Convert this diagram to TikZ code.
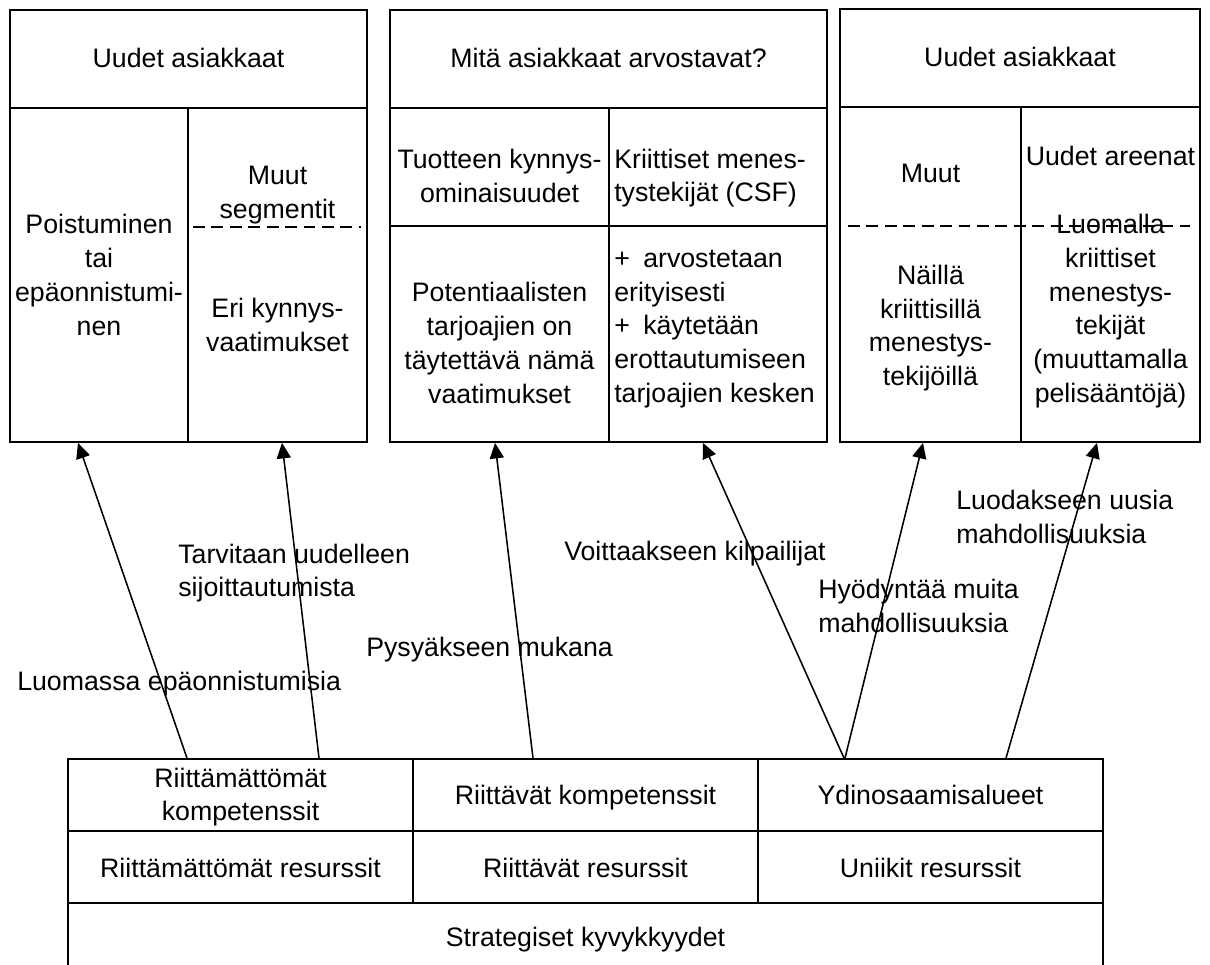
\documentclass[tikz,border=0pt]{standalone}
\usepackage{fontspec}
\setmainfont{Liberation Sans}
\usetikzlibrary{arrows.meta, positioning, calc, fit}
\tikzset{
  cell/.style={rectangle, draw, line width=1.3pt, inner sep=0pt},
  txt/.style={inner sep=0pt, align=center},
  ln/.style={inner sep=0pt, anchor=base},
  lbl/.style={inner sep=0pt, align=left, anchor=west},
  arr/.style={-{Triangle[length=11pt, width=10pt]}, line width=1.1pt},
  dashline/.style={line width=1.1pt, dash pattern=on 8.5pt off 4.6pt},
}

\begin{document}
\begin{tikzpicture}[x=0.025cm, y=-0.025cm, font=\fontsize{19}{24}\selectfont]
  \useasboundingbox (0,0) rectangle (1210,965);

  % left block
  \node[cell, fit={(10,10) (367,108)}] (hdrA) {};
  \node[cell, fit={(10,108) (188,442)}] (exitA) {};
  \node[cell, fit={(188,108) (367,442)}] (segA) {};
  \node[ln] (hdrAT) at (188.5,68) {Uudet asiakkaat};
  \node[txt] (exitT) at (99,275) {Poistuminen\\tai\\epäonnistumi-\\nen};
  \node[txt] (othA) at (277.5,195) {Muut\\segmentit};
  \node[txt] (thrA) at (277.5,325) {Eri kynnys-\\vaatimukset};
  \draw[dashline] (193,227) -- (361,227);

  % middle block
  \node[cell, fit={(390,10) (827,108)}] (hdrB) {};
  \node[cell, fit={(390,108) (609,226)}] (thrB) {};
  \node[cell, fit={(609,108) (827,226)}] (csfB) {};
  \node[cell, fit={(390,226) (609,442)}] (reqB) {};
  \node[cell, fit={(609,226) (827,442)}] (difB) {};
  \node[ln] (hdrBT) at (608.5,68) {Mitä asiakkaat arvostavat?};
  \node[txt] (thrBT) at (499.5,176) {Tuotteen kynnys-\\ominaisuudet};
  \node[lbl] (csfT) at (614,178) {Kriittiset menes-\\tystekijät (CSF)};
  \node[txt] (reqT) at (499.5,343) {Potentiaalisten\\tarjoajien on\\täytettävä nämä\\vaatimukset};
  \node[lbl] (difT) at (614,329)
        {+\enspace arvostetaan\\erityisesti\\+\enspace käytetään\\erottautumiseen\\tarjoajien kesken};

  % right block
  \node[cell, fit={(840,9) (1200,107)}] (hdrC) {};
  \node[cell, fit={(840,107) (1021,442)}] (othC) {};
  \node[cell, fit={(1021,107) (1200,442)}] (newC) {};
  \node[ln] (hdrCT) at (1020,67) {Uudet asiakkaat};
  \node[ln] (othT) at (930.5,183) {Muut};
  \node[txt] (csfC) at (930.5,328) {Näillä\\kriittisillä\\menestys-\\tekijöillä};
  \node[ln] (newT) at (1110.5,166) {Uudet areenat};
  \node[txt] (mkC) at (1110.5,311)
        {Luomalla\\kriittiset\\menestys-\\tekijät\\(muuttamalla\\pelisääntöjä)};
  \draw[dashline] (848,226) -- (1190,226);

  % capability table
  \node[cell, fit={(68,759) (413,831)}] (compA) {};
  \node[cell, fit={(413,759) (758,831)}] (compB) {};
  \node[cell, fit={(758,759) (1103,831)}] (compC) {};
  \node[cell, fit={(68,831) (413,903)}] (resA) {};
  \node[cell, fit={(413,831) (758,903)}] (resB) {};
  \node[cell, fit={(758,831) (1103,903)}] (resC) {};
  \node[cell, fit={(68,903) (1103,975)}] (strat) {};
  \node[txt] (compAT) at (240.5,797) {Riittämättömät\\kompetenssit};
  \node[ln] (compBT) at (585.5,804) {Riittävät kompetenssit};
  \node[ln] (compCT) at (930.5,804) {Ydinosaamisalueet};
  \node[ln] (resAT) at (240.5,877) {Riittämättömät resurssit};
  \node[ln] (resBT) at (585.5,877) {Riittävät resurssit};
  \node[ln] (resCT) at (930.5,877) {Uniikit resurssit};
  \node[ln] (stratT) at (585.5,946) {Strategiset kyvykkyydet};

  % arrow labels
  \node[lbl] (lblA) at (17,684) {Luomassa epäonnistumisia};
  \node[lbl] (lblB) at (178,573) {Tarvitaan uudelleen\\sijoittautumista};
  \node[lbl] (lblC) at (366,650) {Pysyäkseen mukana};
  \node[lbl] (lblD) at (564,554) {Voittaakseen kilpailijat};
  \node[lbl] (lblE) at (818,606) {Hyödyntää muita\\mahdollisuuksia};
  \node[lbl] (lblF) at (956,517) {Luodakseen uusia\\mahdollisuuksia};

  \draw[arr] ($(compA.north)+(-53.5,0)$) -- ($(exitA.south)+(-21,0)$);
  \draw[arr] ($(compA.north)+(78.5,0)$) -- ($(segA.south)+(4.5,0)$);
  \draw[arr] ($(compB.north)+(-52.5,0)$) -- ($(reqB.south)+(-4.5,0)$);
  \draw[arr] ($(compC.north)+(-86.5,0)$) -- ($(difB.south)+(-15,0)$);
  \draw[arr] ($(compC.north)+(-85.5,0)$) -- ($(othC.south)+(-7.5,0)$);
  \draw[arr] ($(compC.north)+(75.5,0)$) -- ($(newC.south)+(-13.5,0)$);
\end{tikzpicture}
\end{document}
